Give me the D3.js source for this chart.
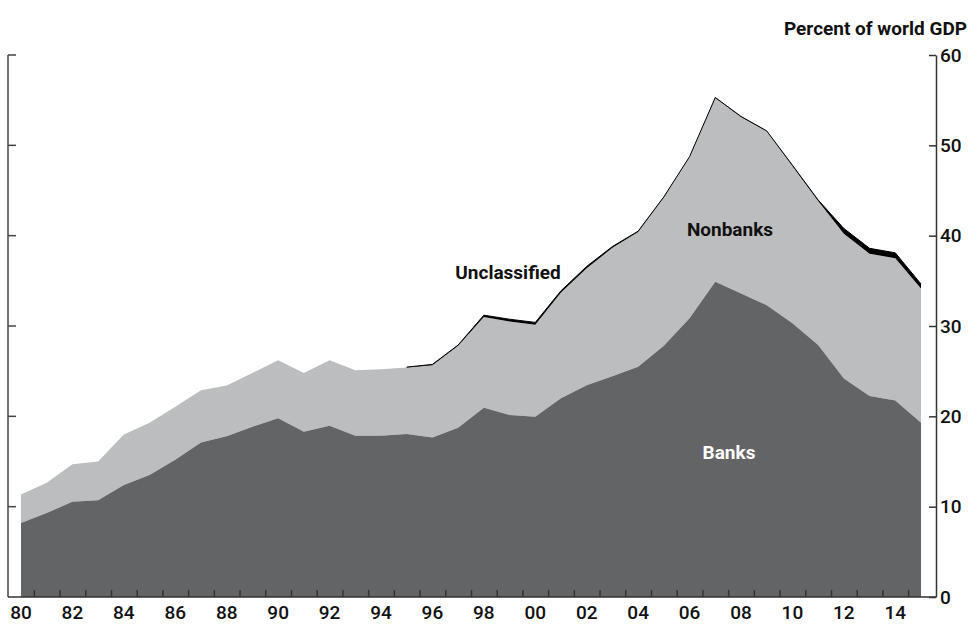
<!DOCTYPE html>
<html>
<head>
<meta charset="utf-8">
<script src="https://cdn.jsdelivr.net/npm/d3@7"></script>
<style>
  body { margin: 0; background: #fff; }
  svg { display: block; }
  text { font-family: Roboto, "Noto Sans", sans-serif; }
</style>
</head>
<body>
<svg id="chart" width="970" height="628"></svg>
<script>
// values, percent of world GDP
var years = [1980,1981,1982,1983,1984,1985,1986,1987,1988,1989,
             1990,1991,1992,1993,1994,1995,1996,1997,1998,1999,
             2000,2001,2002,2003,2004,2005,2006,2007,2008,2009,
             2010,2011,2012,2013,2014,2015];
var banks = [8.2,9.3,10.55,10.7,12.4,13.5,15.2,17.1,17.8,18.85,
             19.8,18.3,18.95,17.85,17.85,18.05,17.65,18.75,20.95,20.15,
             19.95,22.0,23.45,24.45,25.5,27.8,30.85,34.9,33.6,32.3,
             30.3,27.9,24.2,22.25,21.75,19.3];
var nonbanks = [3.15,3.35,4.15,4.3,5.6,5.8,5.85,5.8,5.6,5.95,
                6.4,6.5,7.25,7.25,7.35,7.35,8.0,9.05,10.05,10.35,
                10.2,11.7,12.95,14.2,14.9,16.45,17.85,20.35,19.55,19.25,
                17.4,15.95,16.0,15.75,15.75,14.85];
// unclassified only reported from 1995
var unclassified = [null,null,null,null,null,null,null,null,null,null,
                    null,null,null,null,null,0.05,0.1,0.1,0.2,0.25,
                    0.25,0.2,0.2,0.15,0.1,0.05,0.05,0.05,0.05,0.05,
                    0.1,0.1,0.6,0.6,0.6,0.5];
var yTicks = [0,10,20,30,40,50,60];
var xLabels = ["80","82","84","86","88","90","92","94","96","98","00","02","04","06","08","10","12","14"];

var svg = d3.select("#chart");

var x = d3.scaleLinear().domain([1980, 2015]).range([21, 921]);
var y = d3.scaleLinear().domain([0, 60]).range([597, 55]);

var rows = years.map(function(yr, i){
  var b = banks[i], n = nonbanks[i], u = unclassified[i];
  return {year: yr, b0: 0, b1: b, n1: b + n, u1: u == null ? null : b + n + u};
});

var bankArea = d3.area()
  .x(function(d){ return x(d.year); })
  .y0(function(d){ return y(d.b0); })
  .y1(function(d){ return y(d.b1); });

var nonbankArea = d3.area()
  .x(function(d){ return x(d.year); })
  .y0(function(d){ return y(d.b1); })
  .y1(function(d){ return y(d.n1); });

var uncArea = d3.area()
  .defined(function(d){ return d.u1 != null; })
  .x(function(d){ return x(d.year); })
  .y0(function(d){ return y(d.n1); })
  .y1(function(d){ return y(d.u1); });

var uncLine = d3.line()
  .defined(function(d){ return d.u1 != null; })
  .x(function(d){ return x(d.year); })
  .y(function(d){ return y(d.u1); });

svg.append("path").datum(rows).attr("d", nonbankArea).attr("fill", "#bcbdbf");
svg.append("path").datum(rows).attr("d", bankArea).attr("fill", "#636466");
svg.append("path").datum(rows).attr("d", uncArea).attr("fill", "#000");
svg.append("path").datum(rows).attr("d", uncLine)
   .attr("fill", "none").attr("stroke", "#000").attr("stroke-width", 1);

// frame: left, bottom, right
var axisColor = "#333";
var left = 8, right = 936;

svg.append("line").attr("x1", left).attr("x2", left).attr("y1", y(60)).attr("y2", y(0))
   .attr("stroke", "#444").attr("stroke-width", 1.5);
svg.selectAll(".ltick").data(yTicks.slice(1)).enter().append("line")
   .attr("x1", left).attr("x2", left + 8)
   .attr("y1", function(d){ return y(d); }).attr("y2", function(d){ return y(d); })
   .attr("stroke", "#444").attr("stroke-width", 1.5);

var yAxis = d3.axisRight(y).tickValues(yTicks).tickSize(-7).tickSizeOuter(0);
var gy = svg.append("g").attr("transform", "translate(" + right + ",0)").call(yAxis);
gy.select(".domain").attr("stroke", axisColor).attr("stroke-width", 1.5);
gy.selectAll(".tick line").attr("stroke", axisColor).attr("stroke-width", 1.5);
gy.selectAll(".tick text")
  .attr("x", 4).attr("font-size", 19).attr("font-weight", 500).attr("fill", "#111")
  .style("font-family", null);

var halfYears = years.slice(0, -1).map(function(d){ return d + 0.5; });
var xAxis = d3.axisBottom(x).tickValues(halfYears).tickSize(-7).tickFormat("").tickSizeOuter(0);
var gx = svg.append("g").attr("transform", "translate(0," + y(0) + ")").call(xAxis);
gx.select(".domain").remove();
gx.selectAll(".tick line").attr("stroke", axisColor).attr("stroke-width", 1.5);
svg.append("line").attr("x1", left).attr("x2", right).attr("y1", y(0)).attr("y2", y(0))
   .attr("stroke", axisColor).attr("stroke-width", 1.5);

svg.selectAll(".xlab").data(xLabels).enter().append("text")
   .attr("x", function(d, i){ return x(1980 + i * 2); })
   .attr("y", 619)
   .attr("text-anchor", "middle")
   .attr("font-size", 19).attr("font-weight", 500).attr("fill", "#111")
   .text(function(d){ return d; });

svg.append("text").attr("x", 967).attr("y", 35).attr("text-anchor", "end")
   .attr("font-size", 19).attr("font-weight", "bold").attr("fill", "#111")
   .text("Percent of world GDP");

svg.append("text").attr("x", 508).attr("y", 279).attr("text-anchor", "middle")
   .attr("font-size", 19).attr("font-weight", "bold").attr("fill", "#111").text("Unclassified");
svg.append("text").attr("x", 730).attr("y", 236).attr("text-anchor", "middle")
   .attr("font-size", 19).attr("font-weight", "bold").attr("fill", "#111").text("Nonbanks");
svg.append("text").attr("x", 729).attr("y", 459).attr("text-anchor", "middle")
   .attr("font-size", 19).attr("font-weight", "bold").attr("fill", "#fff").text("Banks");
</script>
</body>
</html>
